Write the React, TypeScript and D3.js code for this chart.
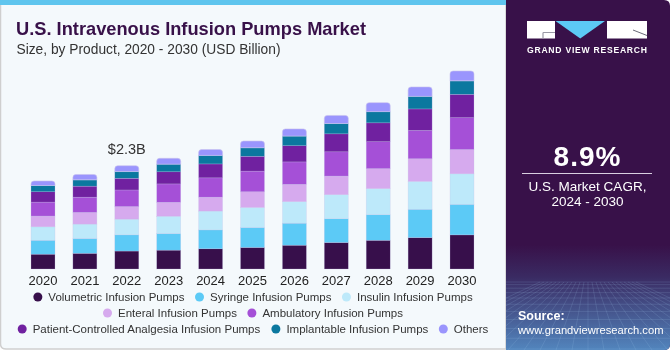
import React from 'react';
import * as d3 from 'd3';

const years = ['2020', '2021', '2022', '2023', '2024', '2025', '2026', '2027', '2028', '2029', '2030'];
const seriesNames = [
  'Volumetric Infusion Pumps',
  'Syringe Infusion Pumps',
  'Insulin Infusion Pumps',
  'Enteral Infusion Pumps',
  'Ambulatory Infusion Pumps',
  'Patient-Controlled Analgesia Infusion Pumps',
  'Implantable Infusion Pumps',
  'Others',
];
const volumetric = [0.33, 0.35, 0.40, 0.42, 0.45, 0.48, 0.53, 0.59, 0.64, 0.70, 0.76];
const syringe = [0.31, 0.33, 0.36, 0.37, 0.42, 0.445, 0.49, 0.53, 0.57, 0.63, 0.68];
const insulin = [0.30, 0.32, 0.35, 0.385, 0.42, 0.445, 0.48, 0.535, 0.58, 0.62, 0.68];
const enteral = [0.24, 0.26, 0.28, 0.31, 0.31, 0.35, 0.385, 0.415, 0.445, 0.505, 0.54];
const ambulatory = [0.31, 0.34, 0.37, 0.41, 0.43, 0.46, 0.50, 0.54, 0.60, 0.63, 0.71];
const pca = [0.23, 0.245, 0.26, 0.27, 0.31, 0.33, 0.36, 0.40, 0.42, 0.48, 0.52];
const implantable = [0.14, 0.14, 0.15, 0.17, 0.19, 0.19, 0.215, 0.23, 0.25, 0.28, 0.30];
const others = [0.10, 0.12, 0.13, 0.13, 0.13, 0.15, 0.16, 0.18, 0.20, 0.21, 0.22];
const seriesValues = [volumetric, syringe, insulin, enteral, ambulatory, pca, implantable, others];
const colors = ['#370f4b', '#5ccaf6', '#bde9fa', '#d6aaee', '#a550d7', '#7021a0', '#0b789f', '#9a95fd'];
const legendRows = [[0, 1, 2], [3, 4], [5, 6, 7]];
const annotationYear = '2022';
const annotationText = '$2.3B';

const FONT = '"Liberation Sans", Arial, sans-serif';

function measure(text: string, size: number, weight = 'normal') {
  const c = document.createElement('canvas').getContext('2d');
  if (!c) return text.length * size * 0.5;
  c.font = `${weight} ${size}px "Liberation Sans", Arial, sans-serif`;
  return c.measureText(text).width;
}

function topRounded(x: number, y: number, w: number, h: number, r: number) {
  const rr = Math.min(r, h, w / 2);
  return `M${x},${y + h}V${y + rr}Q${x},${y} ${x + rr},${y}H${x + w - rr}Q${x + w},${y} ${x + w},${y + rr}V${y + h}Z`;
}

export default function App() {
  const W = 670, H = 350;
  const panelW = 506;
  const table = years.map((yr, i) => {
    const row: any = { year: yr };
    seriesNames.forEach((n, k) => (row[n] = seriesValues[k][i]));
    return row;
  });
  const stacked = d3.stack<any>().keys(seriesNames)(table);
  const x = d3.scalePoint<string>().domain(years).range([43, 462]);
  const y = d3.scaleLinear().domain([0, 4.5]).range([269, 269 - 4.5 * 44.9]);
  const bw = 24;

  const legendFont = 11.5;
  const legendY = [297, 313, 329];

  return (
    <svg width={W} height={H} style={{ position: 'fixed', left: 0, top: 0, display: 'block' }} fontFamily={FONT}>
      <defs>
        <linearGradient id="bottomGrad" x1="0" y1="0" x2="0" y2="1">
          <stop offset="0" stopColor="#381149" />
          <stop offset="0.3" stopColor="#3a2a62" />
          <stop offset="1" stopColor="#5285bd" />
        </linearGradient>
        <clipPath id="rightClip">
          <path d={`M${panelW},0H${W - 6}Q${W},0 ${W},6V${H - 6}Q${W},${H} ${W - 6},${H}H${panelW}Z`} />
        </clipPath>
      </defs>
      {/* left panel */}
      <path d={`M0.5,0H${panelW}V${H - 1}H6Q0.5,${H - 1} 0.5,${H - 6}Z`} fill="#f4f9fc" stroke="#cfcfcf" strokeWidth={1.5} />
      <rect x={0} y={0} width={panelW} height={5} fill="#5fc5ee" />
      {/* right panel */}
      <g clipPath="url(#rightClip)">
        <rect x={panelW} y={0} width={W - panelW} height={H} fill="#381149" />
        <rect x={panelW} y={245} width={W - panelW} height={H - 245} fill="url(#bottomGrad)" />
        <g stroke="#a9cdf2" strokeOpacity={0.25} strokeWidth={0.6} fill="none">
          {d3.range(0, 14).map((i) => (
            <line key={'h' + i} x1={panelW} x2={W} y1={282 + i * i * 0.45 + i * 2.2} y2={282 + i * i * 0.45 + i * 2.2} />
          ))}
          {d3.range(-12, 13).map((i) => (
            <line key={'v' + i} x1={588 + i * 4} y1={282} x2={588 + i * 16} y2={H} />
          ))}
        </g>
      </g>
      {/* logo */}
      <g>
        <rect x={527} y={21} width={28} height={17.5} fill="#ffffff" />
        <path d="M543,32.5H555M543,32.5V38.5" stroke="#9a9aa6" strokeWidth={1.2} fill="none" />
        <path d="M555.5,21H605L580.25,38.5Z" fill="#5cc9f5" />
        <rect x={607} y={21} width={40} height={17.5} fill="#ffffff" />
        <path d="M633,30L647,35.5" stroke="#6a6a78" strokeWidth={1} />
        <text x={527} y={53} fill="#ffffff" fontSize={8.6} fontWeight="bold" textLength={120} lengthAdjust="spacing">GRAND VIEW RESEARCH</text>
      </g>
      <text x={587.5} y={165.5} textAnchor="middle" fill="#ffffff" fontSize={28} fontWeight="bold" letterSpacing={1}>8.9%</text>
      <line x1={522} x2={652} y1={173.5} y2={173.5} stroke="#d8cfe0" strokeWidth={1.2} />
      <text x={587.5} y={191} textAnchor="middle" fill="#ffffff" fontSize={13.5}>U.S. Market CAGR,</text>
      <text x={587.5} y={206} textAnchor="middle" fill="#ffffff" fontSize={13.5}>2024 - 2030</text>
      <text x={518} y={320} fill="#ffffff" fontSize={12.5} fontWeight="bold">Source:</text>
      <text x={518} y={334} fill="#ffffff" fontSize={11.2}>www.grandviewresearch.com</text>

      {/* titles */}
      <text x={16} y={35} fill="#381149" fontSize={19} fontWeight="bold" textLength={350} lengthAdjust="spacingAndGlyphs">U.S. Intravenous Infusion Pumps Market</text>
      <text x={16.5} y={54} fill="#333333" fontSize={14} textLength={264} lengthAdjust="spacingAndGlyphs">Size, by Product, 2020 - 2030 (USD Billion)</text>

      {/* bars */}
      {stacked.map((layer, k) => (
        <g key={layer.key} fill={colors[k]}>
          {layer.map((d, i) => {
            const x0 = (x(years[i]) as number) - bw / 2;
            const y0 = y(d[1]);
            const h = y(d[0]) - y(d[1]);
            if (k === stacked.length - 1) {
              return <path key={i} d={topRounded(x0, y0, bw, h, 3)} stroke="#c9c3ef" strokeWidth={0.6} />;
            }
            return <rect key={i} x={x0} y={y0} width={bw} height={h} stroke="rgba(200,195,235,0.5)" strokeWidth={0.5} />;
          })}
        </g>
      ))}
      <text x={x(annotationYear) as number} y={154} textAnchor="middle" fill="#333333" fontSize={14.5}>{annotationText}</text>
      {years.map((yr) => (
        <text key={yr} x={x(yr) as number} y={285} textAnchor="middle" fill="#222222" fontSize={13}>{yr}</text>
      ))}

      {/* legend */}
      {legendRows.map((row, r) => {
        const dotR = 4.5, gapDot = 6, gapItem = 10.5;
        const widths = row.map((k) => dotR * 2 + gapDot + measure(seriesNames[k], legendFont));
        const total = d3.sum(widths) + gapItem * (row.length - 1);
        let cx = 253 - total / 2;
        return (
          <g key={r}>
            {row.map((k, j) => {
              const start = cx;
              cx += widths[j] + gapItem;
              return (
                <g key={k}>
                  <circle cx={start + dotR} cy={legendY[r]} r={dotR} fill={colors[k]} />
                  <text x={start + dotR * 2 + gapDot} y={legendY[r] + 4.1} fill="#333333" fontSize={legendFont}>{seriesNames[k]}</text>
                </g>
              );
            })}
          </g>
        );
      })}
    </svg>
  );
}
